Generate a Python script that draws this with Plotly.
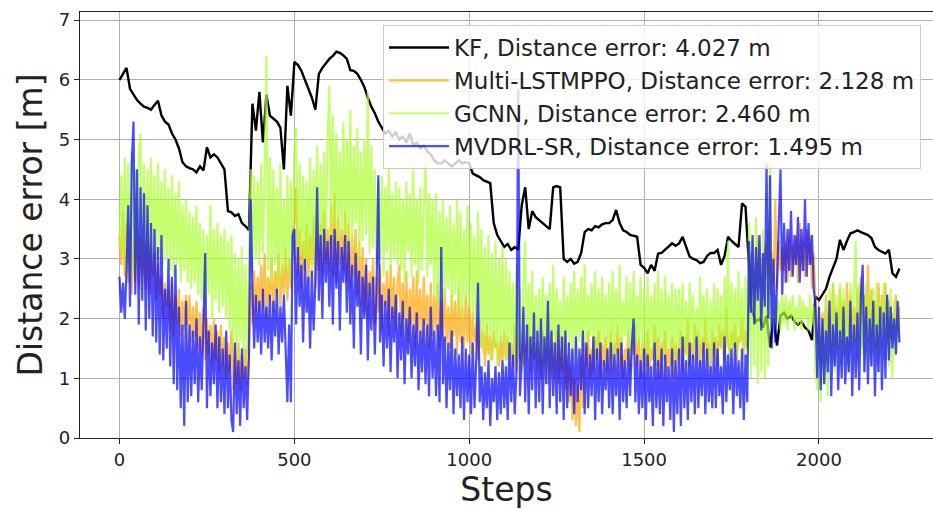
import plotly.graph_objects as go

# KF sampled every 10 steps, learned methods every 5 steps (0 .. 2230)
kf_steps = list(range(0, 2231, 10))
steps = list(range(0, 2231, 5))

kf = [
    6.0, 6.1, 6.2, 5.85, 5.75, 5.66, 5.6, 5.55, 5.53, 5.5,
    5.58, 5.65, 5.4, 5.3, 5.25, 5.1, 5.0, 4.85, 4.62, 4.55,
    4.52, 4.5, 4.45, 4.55, 4.48, 4.87, 4.7, 4.75, 4.7, 4.6,
    4.5, 3.8, 3.78, 3.72, 3.75, 3.6, 3.55, 3.48, 5.6, 5.15,
    5.8, 4.95, 5.75, 5.4, 5.35, 5.3, 5.2, 4.5, 5.9, 5.4,
    6.3, 6.25, 6.15, 6.0, 5.88, 5.7, 5.5, 6.1, 6.2, 6.28,
    6.35, 6.4, 6.47, 6.45, 6.41, 6.35, 6.16, 6.15, 6.1, 6.0,
    5.88, 5.7, 5.55, 5.44, 5.3, 5.2, 5.1, 5.15, 5.05, 5.12,
    5.0, 5.05, 4.95, 5.1, 4.9, 4.95, 4.85, 4.9, 4.8, 4.75,
    4.65, 4.6, 4.6, 4.65, 4.6, 4.55, 4.6, 4.65, 4.6, 4.62,
    4.6, 4.43, 4.4, 4.37, 4.32, 4.3, 4.27, 3.6, 3.4, 3.3,
    3.2, 3.25, 3.15, 3.2, 3.15, 3.9, 4.2, 3.5, 3.8, 3.7,
    3.65, 3.6, 3.54, 3.5, 4.2, 4.22, 4.2, 3.0, 2.95, 3.0,
    2.92, 2.95, 3.1, 3.45, 3.5, 3.48, 3.55, 3.53, 3.58, 3.6,
    3.6, 3.65, 3.82, 3.6, 3.48, 3.45, 3.4, 3.38, 3.37, 2.9,
    2.85, 2.76, 2.9, 2.8, 3.09, 3.1, 3.15, 3.2, 3.26, 3.22,
    3.26, 3.37, 3.2, 3.04, 3.0, 2.98, 2.93, 2.95, 3.05, 3.1,
    3.1, 3.15, 2.9, 3.05, 3.37, 3.3, 3.25, 3.2, 3.93, 3.87,
    2.87, 2.1, 1.95, 2.0, 1.85, 2.05, 1.52, 2.0, 1.55, 2.05,
    2.1, 2.0, 2.05, 1.95, 1.9, 1.95, 1.85, 1.8, 1.64, 2.37,
    2.31, 2.4, 2.5, 2.7, 2.85, 3.0, 3.32, 3.15, 3.3, 3.43,
    3.45, 3.48, 3.45, 3.42, 3.4, 3.35, 3.2, 3.15, 3.12, 3.09,
    3.15, 2.76, 2.7, 2.84,
]

multi_lstmppo = [
    3.4, 2.9, 3.8, 2.7, 3.6, 2.6, 3.5, 2.4, 3.3, 2.6, 3.9, 2.5, 3.4, 2.7, 3.3, 2.5, 3.6, 2.4, 3.2, 2.7,
    3.1, 2.3, 2.9, 2.4, 2.7, 2.0, 2.6, 2.2, 2.5, 1.8, 2.6, 1.7, 2.4, 1.9, 2.5, 1.7, 2.3, 1.8, 2.4, 1.9,
    2.4, 1.6, 2.2, 1.7, 2.3, 1.5, 2.1, 1.4, 2.2, 1.3, 2.0, 1.4, 1.9, 1.2, 2.0, 1.3, 1.8, 1.1, 1.9, 1.2,
    1.7, 1.0, 1.6, 1.1, 1.8, 0.8, 1.5, 0.9, 1.6, 0.8, 1.4, 1.0, 1.5, 0.9, 1.3, 2.6, 1.9, 2.8, 2.1, 2.7,
    2.1, 2.9, 2.2, 3.1, 2.0, 2.7, 2.3, 3.0, 2.1, 2.8, 2.4, 3.1, 2.2, 2.9, 2.4, 3.2, 2.3, 3.0, 2.5, 3.5,
    3.6, 4.2, 2.7, 3.5, 2.5, 3.3, 2.8, 3.6, 2.6, 3.4, 2.9, 3.7, 2.5, 3.5, 2.8, 3.6, 2.7, 3.8, 2.9, 3.5,
    2.8, 3.9, 2.7, 4.1, 2.6, 3.7, 2.9, 3.5, 2.8, 3.8, 2.6, 3.6, 2.5, 3.4, 2.7, 3.5, 2.4, 3.3, 2.2, 3.2,
    2.1, 3.0, 2.0, 2.8, 2.4, 3.0, 1.9, 2.7, 2.1, 2.9, 1.8, 2.6, 2.2, 2.8, 1.7, 2.9, 2.0, 2.7, 1.8, 2.6,
    2.9, 1.7, 2.6, 2.0, 2.8, 1.6, 2.5, 1.9, 2.7, 1.5, 2.8, 1.8, 2.5, 1.6, 2.7, 1.9, 2.4, 1.5, 2.6, 1.7,
    2.4, 1.8, 2.6, 1.5, 2.3, 1.7, 2.5, 1.6, 2.2, 1.5, 2.4, 1.7, 2.3, 1.4, 2.5, 1.6, 2.2, 1.5, 2.4, 1.6,
    2.3, 1.4, 2.1, 1.6, 1.9, 1.3, 2.0, 1.5, 1.8, 1.2, 1.9, 1.4, 1.7, 1.3, 1.8, 1.5, 1.6, 1.2, 1.7, 1.3,
    1.8, 1.3, 1.7, 1.4, 1.6, 1.2, 1.9, 1.1, 1.7, 1.3, 1.8, 1.2, 1.6, 1.4, 1.9, 1.1, 1.7, 1.3, 1.6, 1.2,
    1.6, 1.0, 1.8, 1.2, 1.5, 0.9, 1.7, 1.1, 1.6, 1.0, 1.8, 0.9, 1.5, 1.1, 1.7, 0.8, 1.4, 0.6, 1.2, 0.3,
    1.0, 0.2, 0.9, 0.1, 1.4, 0.5, 1.6, 1.2, 1.8, 1.0, 1.5, 1.1, 1.7, 1.3, 1.8, 1.0, 1.6, 1.2, 1.7, 1.1,
    1.3, 1.8, 1.1, 1.6, 1.4, 1.9, 1.2, 1.7, 1.0, 1.5, 1.3, 1.8, 1.1, 1.6, 1.4, 1.9, 1.2, 1.7, 1.0, 1.5,
    1.6, 1.2, 1.8, 1.1, 1.5, 1.3, 1.9, 1.2, 1.7, 1.0, 1.6, 1.3, 1.8, 1.1, 1.5, 1.2, 1.7, 1.0, 1.6, 1.3,
    1.5, 1.8, 1.1, 1.7, 1.4, 2.0, 1.2, 1.6, 1.3, 1.9, 1.5, 1.8, 1.2, 1.7, 1.4, 2.0, 1.3, 1.6, 1.1, 1.8,
    1.4, 1.7, 1.2, 1.9, 1.5, 1.8, 1.3, 2.2, 1.6, 1.4, 1.8, 1.5, 1.9, 1.3, 1.7, 1.6, 2.0, 1.4, 1.8, 1.5,
    2.6, 3.1, 2.2, 2.9, 2.4, 3.4, 2.5, 3.0, 2.3, 3.2, 2.7, 3.5, 2.4, 3.1, 2.6, 4.0, 2.5, 3.3, 2.8, 3.2,
    2.8, 3.3, 2.6, 3.5, 2.7, 3.2, 2.9, 3.4, 2.6, 3.6, 2.8, 3.3, 2.7, 3.5, 2.9, 3.4, 2.5, 3.1, 2.3, 1.6,
    1.8, 1.2, 2.1, 1.5, 2.4, 1.7, 2.3, 1.4, 2.6, 1.9, 2.2, 1.5, 2.5, 1.7, 2.3, 1.4, 2.6, 1.8, 2.4, 1.6,
    2.2, 1.6, 2.5, 1.8, 2.7, 1.5, 2.4, 1.7, 2.9, 1.6, 2.5, 1.8, 2.3, 1.5, 2.6, 1.7, 2.4, 1.9, 2.6, 1.6,
    2.3, 1.6, 2.1, 1.8, 2.4, 1.7, 2.2,
]

gcnn = [
    3.2, 4.4, 3.0, 4.7, 2.8, 4.6, 2.6, 4.8, 2.7, 4.5, 2.9, 4.7, 5.1, 2.6, 4.6, 2.9, 4.5, 3.1, 4.7, 3.0,
    4.4, 3.0, 4.6, 3.1, 4.3, 2.9, 4.5, 3.0, 4.2, 2.8, 4.4, 2.7, 4.1, 2.9, 4.3, 2.6, 3.9, 2.8, 4.0, 2.6,
    3.8, 2.5, 3.7, 2.6, 3.9, 2.4, 3.6, 2.3, 3.5, 2.2, 3.4, 2.4, 3.9, 2.0, 3.5, 2.3, 3.6, 2.1, 3.4, 2.2,
    3.5, 2.0, 3.3, 1.8, 3.4, 1.5, 3.1, 1.3, 3.0, 1.6, 3.2, 1.2, 2.9, 1.4, 3.0, 4.5, 2.8, 4.4, 3.0, 4.3,
    2.9, 4.6, 3.1, 4.4, 6.4, 2.8, 4.7, 2.6, 4.5, 2.9, 4.2, 2.5, 4.6, 2.7, 4.0, 2.8, 4.4, 2.6, 4.3, 3.0,
    4.8, 5.2, 2.9, 4.6, 3.1, 4.4, 2.8, 4.3, 3.0, 4.7, 2.7, 4.5, 3.1, 4.9, 3.0, 4.6, 3.2, 4.8, 3.3, 5.0,
    5.9, 3.3, 5.4, 3.6, 5.1, 3.2, 4.8, 3.5, 5.3, 3.1, 5.0, 3.4, 5.5, 3.2, 4.9, 3.6, 5.2, 3.0, 4.8, 3.3,
    5.0, 3.4, 5.8, 3.1, 4.9, 3.2, 4.5, 2.9, 4.3, 3.0, 4.4, 2.7, 4.2, 3.1, 4.5, 2.8, 4.1, 3.0, 4.3, 2.9,
    4.2, 2.8, 4.0, 2.6, 4.3, 3.1, 4.1, 2.7, 4.5, 2.9, 4.0, 2.6, 4.2, 2.8, 3.9, 4.6, 2.7, 4.1, 2.9, 4.0,
    2.4, 4.1, 2.2, 3.8, 2.6, 4.0, 2.3, 3.7, 2.5, 3.9, 2.1, 3.6, 2.4, 4.0, 2.2, 3.8, 2.0, 3.5, 2.3, 3.9,
    2.2, 3.6, 2.0, 3.4, 1.8, 3.8, 1.6, 3.5, 1.4, 3.2, 1.7, 3.4, 1.3, 3.1, 1.5, 3.3, 1.2, 3.0, 1.6, 3.2,
    1.4, 3.0, 1.3, 2.8, 1.5, 2.6, 1.2, 2.9, 1.4, 2.5, 1.1, 2.7, 3.3, 1.3, 2.6, 1.2, 2.8, 1.4, 2.4, 1.1,
    2.5, 1.3, 2.7, 1.2, 2.4, 1.4, 2.6, 1.1, 2.9, 1.3, 2.5, 1.5, 2.3, 1.2, 2.7, 1.4, 2.4, 1.6, 2.6, 1.3,
    2.8, 1.4, 2.5, 1.6, 2.7, 1.3, 2.9, 1.5, 2.4, 1.7, 2.6, 1.3, 2.8, 1.5, 2.5, 1.4, 2.7, 1.6, 2.4, 1.3,
    2.6, 1.5, 2.8, 1.2, 2.5, 1.6, 2.9, 1.4, 2.3, 1.7, 2.7, 1.3, 2.6, 1.5, 2.8, 1.4, 2.4, 1.6, 2.7, 1.3,
    2.5, 1.4, 2.7, 1.3, 2.4, 1.5, 2.6, 1.2, 2.8, 1.6, 2.5, 1.3, 2.7, 1.5, 2.4, 1.4, 2.6, 1.2, 2.5, 1.5,
    2.5, 1.3, 2.6, 1.5, 2.3, 1.2, 2.6, 1.6, 2.4, 1.4, 2.2, 1.3, 2.7, 1.5, 2.4, 1.6, 2.5, 1.2, 2.3, 1.4,
    2.6, 1.3, 2.5, 1.6, 2.4, 1.4, 2.7, 1.5, 3.3, 1.3, 2.6, 1.5, 2.5, 1.4, 2.8, 1.6, 2.5, 1.3, 2.7, 1.5,
    3.6, 1.0, 3.4, 1.2, 3.7, 0.9, 3.3, 1.1, 3.5, 1.0, 3.2, 1.2, 4.6, 2.2, 1.8, 2.4, 1.9, 2.3, 1.8, 2.4,
    1.9, 2.4, 1.8, 2.3, 2.0, 2.4, 1.8, 2.2, 1.9, 2.4, 1.8, 2.3, 2.0, 2.2, 1.8, 2.4, 1.9, 2.2, 1.1, 0.8,
    2.2, 0.6, 2.0, 0.9, 2.3, 0.7, 2.5, 1.3, 2.6, 1.1, 2.4, 1.5, 2.6, 1.2, 2.5, 1.4, 2.3, 1.1, 2.6, 1.5,
    2.5, 3.3, 1.2, 2.6, 1.4, 2.3, 1.1, 2.6, 1.6, 2.4, 1.2, 2.5, 1.4, 2.6, 1.1, 2.3, 1.5, 2.6, 1.3, 2.4,
    1.2, 2.5, 1.0, 2.3, 1.4, 2.1, 1.6,
]

mvdrl_sr = [
    2.7, 2.1, 2.6, 2.0, 2.8, 3.9, 2.2, 4.6, 5.3, 2.4, 4.5, 1.9, 4.2, 2.3, 4.1, 1.8, 3.9, 2.0, 3.6, 1.7,
    3.5, 1.6, 3.2, 1.4, 3.4, 1.3, 2.5, 1.5, 3.0, 1.2, 2.7, 0.9, 2.9, 0.8, 2.2, 0.5, 1.9, 0.2, 2.3, 0.6,
    1.9, 0.7, 1.8, 0.9, 2.0, 0.6, 1.7, 0.8, 1.9, 3.1, 0.5, 1.8, 0.7, 1.6, 0.9, 1.9, 0.5, 1.7, 0.6, 1.5,
    0.4, 1.8, 0.5, 1.4, 0.3, 0.1, 1.6, 0.4, 1.3, 0.2, 1.5, 0.5, 1.2, 0.3, 1.4, 4.0, 2.5, 1.5, 2.4, 1.6,
    2.3, 1.4, 2.5, 1.6, 2.2, 1.5, 2.4, 1.3, 2.3, 1.7, 2.5, 1.4, 2.2, 1.6, 2.4, 1.5, 0.6, 1.9, 0.6, 3.4,
    3.5, 1.9, 3.2, 2.2, 2.9, 1.6, 3.0, 2.1, 2.7, 1.5, 2.8, 1.8, 2.6, 4.2, 2.3, 3.4, 2.0, 3.5, 2.6, 3.3,
    2.2, 3.4, 1.9, 3.5, 2.5, 3.3, 1.8, 3.2, 2.6, 3.4, 2.1, 3.3, 1.9, 2.9, 1.5, 3.1, 2.2, 2.8, 1.4, 2.7,
    2.0, 2.9, 1.3, 2.6, 1.8, 2.7, 1.4, 2.5, 4.4, 1.6, 2.4, 1.2, 2.3, 1.5, 2.5, 1.1, 2.2, 1.6, 2.4, 1.0,
    2.1, 1.3, 2.3, 0.9, 2.0, 1.4, 2.2, 1.0, 1.9, 1.2, 2.1, 0.8, 1.8, 1.1, 2.0, 0.9, 1.9, 0.7, 2.2, 1.0,
    1.8, 0.7, 1.9, 0.6, 3.2, 0.9, 1.7, 0.5, 1.6, 0.8, 1.8, 0.4, 1.5, 0.7, 1.4, 0.5, 1.7, 0.3, 1.5, 0.6,
    1.4, 0.4, 1.6, 0.5, 1.3, 2.6, 0.6, 1.2, 0.3, 1.1, 0.5, 1.3, 0.2, 1.0, 0.6, 1.2, 0.3, 1.1, 0.4, 1.3,
    0.5, 1.2, 0.3, 1.6, 0.6, 1.4, 0.4, 1.1, 5.85, 0.7, 1.3, 2.2, 0.6, 1.9, 0.4, 1.7, 0.8, 2.1, 0.5, 1.8,
    0.6, 2.0, 0.4, 1.7, 0.9, 2.3, 0.5, 1.8, 0.7, 1.6, 0.4, 1.9, 0.6, 1.7, 0.3, 1.8, 0.5, 1.6, 0.7, 1.5,
    0.4, 1.7, 0.6, 1.5, 0.8, 1.8, 0.4, 1.6, 0.5, 1.4, 0.7, 1.7, 0.3, 1.5, 0.6, 1.6, 0.4, 1.3, 0.8, 1.5,
    0.5, 1.6, 0.4, 1.4, 0.7, 1.5, 0.3, 1.6, 0.6, 1.3, 0.5, 1.5, 0.7, 1.6, 2.0, 0.6, 1.4, 0.4, 1.3, 0.5,
    1.5, 0.3, 1.4, 0.6, 1.2, 0.2, 1.6, 0.5, 1.3, 0.4, 1.5, 0.2, 1.4, 0.6, 1.2, 0.3, 1.5, 0.1, 1.3, 0.4,
    1.5, 0.2, 1.7, 0.5, 1.3, 0.3, 1.6, 0.6, 1.4, 0.4, 1.7, 0.5, 1.3, 0.7, 1.6, 0.4, 1.5, 0.6, 1.2, 0.5,
    1.6, 0.5, 1.5, 0.7, 1.2, 0.4, 1.7, 0.6, 1.4, 0.8, 1.5, 0.4, 1.6, 0.7, 1.3, 0.5, 1.5, 0.3, 1.4, 0.6,
    3.3, 2.1, 3.4, 1.9, 3.2, 2.3, 3.4, 1.8, 3.1, 2.2, 4.6, 2.0, 4.4, 1.5, 3.0, 1.6, 2.8, 3.6, 4.5, 2.4,
    3.6, 2.6, 3.5, 2.8, 3.8, 2.7, 3.4, 2.9, 3.7, 2.6, 3.5, 2.8, 4.0, 2.7, 3.6, 2.9, 3.4, 2.5, 2.2, 1.0,
    2.2, 0.8, 2.0, 0.9, 1.8, 1.1, 2.3, 0.7, 1.9, 1.2, 2.1, 0.8, 1.8, 1.0, 2.2, 0.9, 1.7, 1.1, 2.3, 0.7,
    1.9, 1.0, 2.1, 0.8, 2.4, 2.9, 1.1, 2.2, 0.9, 2.0, 1.2, 2.3, 0.7, 1.9, 1.1, 2.2, 0.8, 2.1, 1.0, 2.4,
    1.3, 2.2, 1.5, 2.0, 1.4, 2.3, 1.6,
]

names = [
    "KF, Distance error: 4.027 m",
    "Multi-LSTMPPO, Distance error: 2.128 m",
    "GCNN, Distance error: 2.460 m",
    "MVDRL-SR, Distance error: 1.495 m",
]
colors = ["#000000", "rgba(255,165,0,0.7)", "rgba(173,255,47,0.7)", "rgba(0,0,255,0.7)"]
series = [(kf_steps, kf), (steps, multi_lstmppo), (steps, gcnn), (steps, mvdrl_sr)]
x_ticks = [0, 500, 1000, 1500, 2000]
y_ticks = [0, 1, 2, 3, 4, 5, 6, 7]

for xs, ys in series:
    assert len(xs) == len(ys), (len(xs), len(ys))

fig = go.Figure()
for i, (nm, col, (xs, ys)) in enumerate(zip(names, colors, series)):
    fig.add_trace(go.Scatter(
        x=xs, y=ys, mode="lines", name=nm, legendgroup=str(i),
        line=dict(color=col, width=2.4 if i == 0 else 2.2),
    ))

font_family = "DejaVu Sans"
fig.update_layout(
    width=933, height=510,
    margin=dict(l=80, r=0, t=12, b=72),
    paper_bgcolor="white", plot_bgcolor="white",
    font=dict(family=font_family, color="#222222"),
    showlegend=True,
    legend=dict(
        x=0.3552, y=0.9695, xanchor="left", yanchor="top",
        bgcolor="rgba(255,255,255,0.8)", bordercolor="#cccccc", borderwidth=1,
        font=dict(size=23, family=font_family, color="#222222"),
        tracegroupgap=0, itemwidth=60,
    ),
)
fig.update_xaxes(
    range=[-113, 2326], tickvals=x_ticks, ticktext=[str(v) for v in x_ticks],
    showgrid=True, gridcolor="#b0b0b0", gridwidth=1,
    showline=True, linecolor="#222222", linewidth=1.2, mirror=True,
    ticks="outside", ticklen=5, tickcolor="#222222",
    tickfont=dict(size=18), zeroline=False,
    title=dict(text="Steps", font=dict(size=33), standoff=8),
)
fig.update_yaxes(
    range=[0, 7.136], tickvals=y_ticks, ticktext=[str(v) for v in y_ticks],
    showgrid=True, gridcolor="#b0b0b0", gridwidth=1,
    showline=True, linecolor="#222222", linewidth=1.2, mirror=False,
    ticks="outside", ticklen=5, tickcolor="#222222",
    tickfont=dict(size=18), zeroline=False,
    title=dict(text="Distance error [m]", font=dict(size=33), standoff=6),
)

fig.write_html("out.html")
